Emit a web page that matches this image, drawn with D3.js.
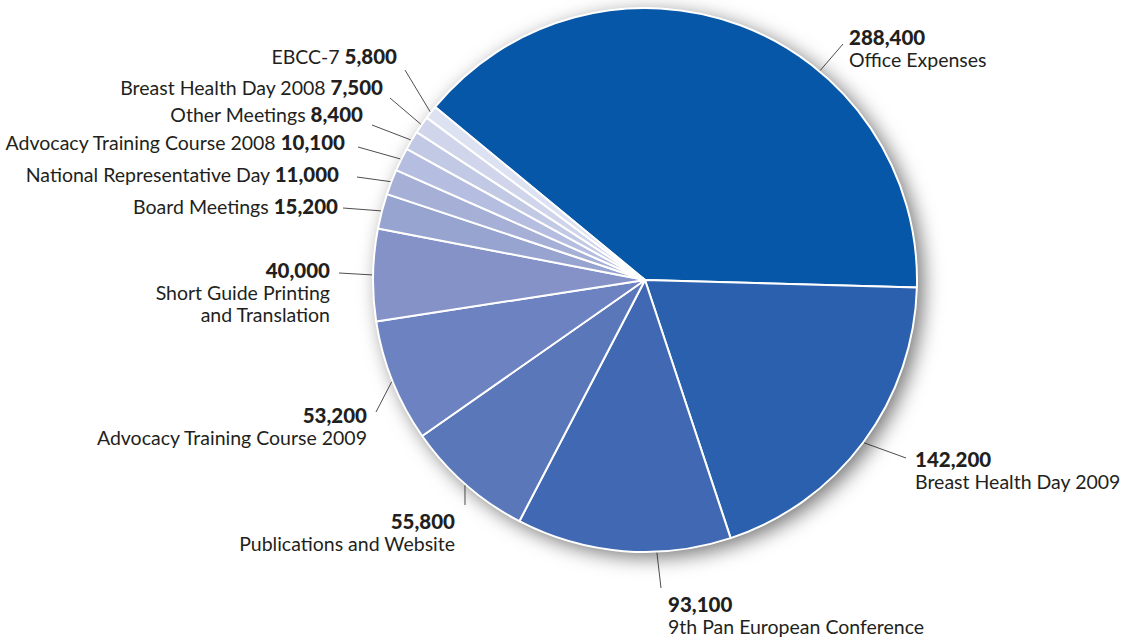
<!DOCTYPE html>
<html>
<head>
<meta charset="utf-8">
<script src="https://cdn.jsdelivr.net/npm/d3@7"></script>
<style>
  html, body { margin: 0; padding: 0; background: #fff; }
  svg { display: block; }
  text { font-family: Lato, "Noto Sans", sans-serif; fill: #231f20; font-size: 19.5px; }
  .num { font-weight: 900; font-size: 20.5px; }
</style>
</head>
<body>
<svg id="chart" width="1131" height="640"></svg>
<script>
// ---- data ----
const categories = [
  "Office Expenses", "Breast Health Day 2009", "9th Pan European Conference",
  "Publications and Website", "Advocacy Training Course 2009",
  "Short Guide Printing|and Translation", "Board Meetings",
  "National Representative Day", "Advocacy Training Course 2008",
  "Other Meetings", "Breast Health Day 2008", "EBCC-7"
];
const values = [288400, 142200, 93100, 55800, 53200, 40000, 15200, 11000, 10100, 8400, 7500, 5800];
const colors = ["#0657a8", "#2a60ae", "#4169b3", "#5a77ba", "#6d82c0", "#8492c8",
                "#98a4d0", "#a6b0d6", "#b5bde0", "#c2c9e5", "#d0d5ec", "#dde2f2"];

// ---- label layout (annotation placement, relative to pie centre) ----
const labelLayout = [
  { angle: 39.9, end: [198, -236], text: [204, -235], anchor: "start", style: "below" },
  { angle: null, end: [261, 178],  text: [270, 187],  anchor: "start", style: "below" },
  { angle: 177.5, end: [16, 308],  text: [23, 332],   anchor: "start", style: "below" },
  { angle: null, end: [-180, 225], text: [-190, 249], anchor: "end",   style: "below" },
  { angle: null, end: [-269, 132], text: [-278, 143], anchor: "end",   style: "below" },
  { angle: null, end: [-306, -7],  text: [-315, -2],  anchor: "end",   style: "below" },
  { angle: null, end: [-302, -72], text: [-307, -66], anchor: "end",   style: "inline" },
  { angle: null, end: [-288, -103],text: [-306, -98], anchor: "end",   style: "inline" },
  { angle: null, end: [-287, -133],text: [-300, -130],anchor: "end",   style: "inline" },
  { angle: null, end: [-273, -155],text: [-282, -158],anchor: "end",   style: "inline" },
  { angle: null, end: [-255, -182],text: [-262, -185],anchor: "end",   style: "inline" },
  { angle: null, end: [-240, -210],text: [-248, -216],anchor: "end",   style: "inline" }
];

const cx = 645, cy = 280, R = 272;
const startDeg = -50.5;
const fmt = d3.format(",");

const svg = d3.select("#chart");
const defs = svg.append("defs");
const f = defs.append("filter").attr("id", "shadow")
  .attr("x", "-20%").attr("y", "-20%").attr("width", "140%").attr("height", "140%");
f.append("feDropShadow").attr("dx", 6).attr("dy", 5).attr("stdDeviation", 10)
  .attr("flood-color", "#000").attr("flood-opacity", 0.55);

const g = svg.append("g").attr("transform", `translate(${cx},${cy})`);

const pie = d3.pie().sort(null).value(d => d)
  .startAngle(startDeg * Math.PI / 180)
  .endAngle((startDeg + 360) * Math.PI / 180);
const arcs = pie(values);
const arc = d3.arc().innerRadius(0).outerRadius(R);

g.append("circle").attr("r", R).attr("fill", "#fff").attr("filter", "url(#shadow)");

g.selectAll("path.slice").data(arcs).join("path")
  .attr("class", "slice")
  .attr("d", arc)
  .attr("fill", (d, i) => colors[i])
  .attr("stroke", "#fff")
  .attr("stroke-width", 2)
  .attr("stroke-linejoin", "round");

const lab = svg.append("g").attr("transform", `translate(${cx},${cy})`);
arcs.forEach((a, i) => {
  const L = labelLayout[i];
  const ang = L.angle != null ? L.angle * Math.PI / 180 : (a.startAngle + a.endAngle) / 2;
  const r0 = R + 1;
  const x0 = Math.sin(ang) * r0, y0 = -Math.cos(ang) * r0;
  lab.append("line")
    .attr("x1", x0).attr("y1", y0)
    .attr("x2", L.end[0]).attr("y2", L.end[1])
    .attr("stroke", "#231f20").attr("stroke-width", 0.8);

  const name = categories[i].split("|");
  const num = fmt(values[i]);
  const t = lab.append("text").attr("x", L.text[0]).attr("y", L.text[1])
    .attr("text-anchor", L.anchor);
  if (L.style === "below") {
    t.append("tspan").attr("class", "num").text(num);
    name.forEach((n, k) => {
      t.append("tspan").attr("x", L.text[0]).attr("dy", k === 0 ? 22 : 21.5).text(n);
    });
  } else {
    t.append("tspan").text(name[0] + " ");
    t.append("tspan").attr("class", "num").text(num);
  }
});
</script>
</body>
</html>
